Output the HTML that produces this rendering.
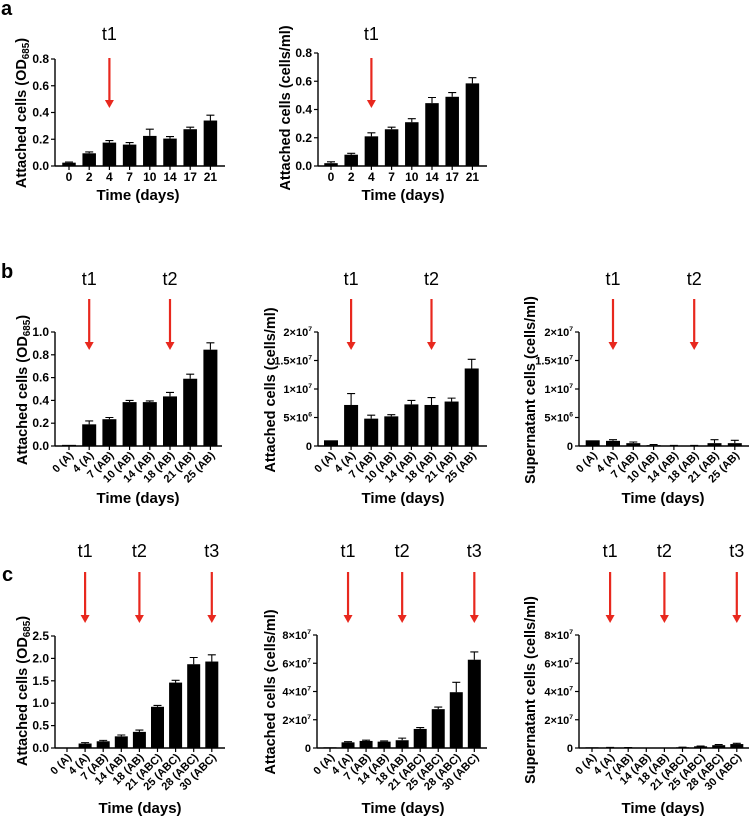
<!DOCTYPE html>
<html><head><meta charset="utf-8"><style>
body{margin:0;background:#fff}
svg{display:block;font-family:"Liberation Sans",Arial,sans-serif}
</style></head><body>
<svg id="fig" width="749" height="816" viewBox="0 0 749 816" xmlns="http://www.w3.org/2000/svg"></svg>
<script>
// ---- data ----
const catsA = ["0","2","4","7","10","14","17","21"];
const catsB = ["0 (A)","4 (A)","7 (AB)","10 (AB)","14 (AB)","18 (AB)","21 (AB)","25 (AB)"];
const catsC = ["0 (A)","4 (A)","7 (AB)","14 (AB)","18 (AB)","21 (ABC)","25 (ABC)","28 (ABC)","30 (ABC)"];
const a1Vals = [0.025,0.095,0.175,0.16,0.225,0.205,0.275,0.34];
const a1Errs = [0.005,0.01,0.015,0.015,0.05,0.015,0.015,0.04];
const a2Vals = [0.02,0.08,0.21,0.26,0.31,0.445,0.49,0.585];
const a2Errs = [0.01,0.01,0.025,0.015,0.025,0.04,0.03,0.04];
const b1Vals = [0.01,0.19,0.235,0.385,0.385,0.435,0.59,0.845];
const b1Errs = [0,0.03,0.015,0.015,0.01,0.035,0.04,0.06];
const b2Vals = [1e6,7.2e6,4.8e6,5.2e6,7.3e6,7.2e6,7.8e6,13.6e6];
const b2Errs = [0,2e6,0.6e6,0.3e6,0.7e6,1.3e6,0.6e6,1.6e6];
const b3Vals = [1e6,0.9e6,0.5e6,0.15e6,0.05e6,0.05e6,0.5e6,0.5e6];
const b3Errs = [0,0.2e6,0.2e6,0.1e6,0.05e6,0.05e6,0.6e6,0.5e6];
const c1Vals = [0.01,0.1,0.15,0.26,0.36,0.92,1.46,1.87,1.93];
const c1Errs = [0,0.02,0.02,0.03,0.04,0.03,0.05,0.15,0.15];
const c2Vals = [0.05e7,0.4e7,0.5e7,0.45e7,0.55e7,1.35e7,2.75e7,3.95e7,6.25e7];
const c2Errs = [0,0.05e7,0.05e7,0.05e7,0.15e7,0.1e7,0.15e7,0.7e7,0.55e7];
const c3Vals = [0.05e7,0.03e7,0.02e7,0.01e7,0.01e7,0.05e7,0.12e7,0.2e7,0.28e7];
const c3Errs = [0,0.01e7,0.01e7,0,0,0.01e7,0.02e7,0.04e7,0.05e7];
const ticksA1 = [0,0.2,0.4,0.6,0.8];
const tickLabA1 = ["0.0","0.2","0.4","0.6","0.8"];
const ticksB1 = [0,0.2,0.4,0.6,0.8,1.0];
const tickLabB1 = ["0.0","0.2","0.4","0.6","0.8","1.0"];
const ticksB2 = [0,5e6,1e7,1.5e7,2e7];
const tickLabB2 = ["0","5×10^6","1×10^7","1.5×10^7","2×10^7"];
const ticksC1 = [0,0.5,1.0,1.5,2.0,2.5];
const tickLabC1 = ["0.0","0.5","1.0","1.5","2.0","2.5"];
const ticksC2 = [0,2e7,4e7,6e7,8e7];
const tickLabC2 = ["0","2×10^7","4×10^7","6×10^7","8×10^7"];

const NS="http://www.w3.org/2000/svg";
const svg=document.getElementById('fig');
function mk(tag,attrs,parent){const e=document.createElementNS(NS,tag);for(const k in attrs)e.setAttribute(k,attrs[k]);(parent||svg).appendChild(e);return e;}

function panel(p){
  const g=mk('g',{});
  
  
  const ymax=p.ticks[p.ticks.length-1];
  const y=v=>p.y0-(v/ymax)*(p.y0-p.yTop);
  const x=i=>p.first+i*p.step;
  const ya=mk('line',{x1:p.ax,y1:p.yTop,x2:p.ax,y2:p.y0,stroke:'#000','stroke-width':1.4},g);
  
  
  const xa=mk('line',{x1:p.ax,y1:p.y0,x2:p.axEnd,y2:p.y0,stroke:'#000','stroke-width':1.4},g);
  
  
  p.ticks.forEach((t,i)=>{
    mk('line',{x1:p.ax-4,y1:y(t),x2:p.ax,y2:y(t),stroke:'#000','stroke-width':1.2},g);
    const tl=mk('text',{x:p.ax-6,y:y(t)+4,'text-anchor':'end','font-size':p.tickFs,'font-weight':'bold'},g);
    const parts=p.tickLabels[i].split('^');
    tl.appendChild(document.createTextNode(parts[0]));
    if(parts[1]){const s=mk('tspan',{'font-size':p.tickFs*0.62,dy:-5},tl);s.textContent=parts[1];}
    
    
  });
  p.cats.forEach((c,i)=>{
    const cx=x(i);
    mk('line',{x1:cx,y1:p.y0,x2:cx,y2:p.y0+4,stroke:'#000','stroke-width':1.2},g);
    const v=p.vals[i],e=p.errs[i];
    const b=mk('rect',{x:cx-p.bw/2,y:y(v),width:p.bw,height:p.y0-y(v),fill:'#000'},g);
    
    
    if(e>0){
      const eb=mk('path',{d:`M${cx},${y(v)} V${y(v+e)} M${cx-4},${y(v+e)} H${cx+4}`,stroke:'#000','stroke-width':1.1,fill:'none'},g);
      
      
    }
    let lab;
    if(p.rot){
      lab=mk('text',{x:0,y:0,'text-anchor':'end','font-size':11,'font-weight':'bold',transform:`translate(${cx+5},${p.y0+10}) rotate(-45)`},g);
    } else {
      lab=mk('text',{x:cx,y:p.y0+15,'text-anchor':'middle','font-size':12,'font-weight':'bold'},g);
    }
    lab.textContent=c;
    
    
  });
  const xt=mk('text',{x:p.xtX,y:p.xtY,'text-anchor':'middle','font-size':p.xtFs,'font-weight':'bold'},g);
  xt.textContent='Time (days)';
  
  
  const yt=mk('text',{x:p.ytX,y:p.ytY,'text-anchor':'middle','font-size':p.ytFs,'font-weight':'bold',transform:`rotate(-90 ${p.ytX} ${p.ytY})`},g);
  
  
  if(p.od){
    yt.appendChild(document.createTextNode('Attached cells (OD'));
    const s=mk('tspan',{'font-size':p.ytFs*0.68,dy:3},yt);s.textContent='685';
    const s2=mk('tspan',{dy:-3},yt);s2.textContent=')';
  } else yt.textContent=p.ytitle;
  p.arrows.forEach((ai,k)=>{
    const axx=x(ai);
    const t=mk('text',{x:axx,y:p.tY,'text-anchor':'middle','font-size':18},g);
    t.textContent='t'+(k+1);
    
    
    const ar=mk('g',{},g);
    
    
    mk('line',{x1:axx,y1:p.arT,x2:axx,y2:p.arB-7,stroke:'#e8281e','stroke-width':2.2},ar);
    mk('polygon',{points:`${axx-4.5},${p.arB-8} ${axx+4.5},${p.arB-8} ${axx},${p.arB}`,fill:'#e8281e'},ar);
  });
}

function letter(t,x,y){const l=mk('text',{x:x,y:y,'font-size':20,'font-weight':'bold'});l.textContent=t;
  
  }
letter('a',1,15);letter('b',1,278);letter('c',2,581);

panel({name:'panel-a1',cats:catsA,vals:a1Vals,errs:a1Errs,ticks:ticksA1,tickLabels:tickLabA1,ax:55,axEnd:225,y0:166,yTop:59,first:69,step:20.2,bw:13.5,rot:false,tickFs:12,xtX:138,xtY:200,xtFs:15,ytX:26,ytY:113,ytFs:14.5,od:true,arrows:[2],tY:40,arT:58,arB:108});
panel({name:'panel-a2',cats:catsA,vals:a2Vals,errs:a2Errs,ticks:ticksA1,tickLabels:tickLabA1,ax:318,axEnd:487,y0:166,yTop:53,first:331,step:20.2,bw:13.5,rot:false,tickFs:12,xtX:403,xtY:200,xtFs:15,ytX:290,ytY:108,ytFs:14.5,ytitle:'Attached cells (cells/ml)',arrows:[2],tY:40,arT:58,arB:108});
panel({name:'panel-b1',cats:catsB,vals:b1Vals,errs:b1Errs,ticks:ticksB1,tickLabels:tickLabB1,ax:55,axEnd:222,y0:446,yTop:332,first:69,step:20.2,bw:14,rot:true,tickFs:12,xtX:138,xtY:503,xtFs:15,ytX:27,ytY:390,ytFs:14.5,od:true,arrows:[1,5],tY:285,arT:299,arB:350});
panel({name:'panel-b2',cats:catsB,vals:b2Vals,errs:b2Errs,ticks:ticksB2,tickLabels:tickLabB2,ax:318,axEnd:487,y0:446,yTop:332,first:331,step:20.1,bw:14,rot:true,tickFs:11,xtX:403,xtY:503,xtFs:15,ytX:275,ytY:390,ytFs:14.5,ytitle:'Attached cells (cells/ml)',arrows:[1,5],tY:285,arT:299,arB:350});
panel({name:'panel-b3',cats:catsB,vals:b3Vals,errs:b3Errs,ticks:ticksB2,tickLabels:tickLabB2,ax:579,axEnd:749,y0:446,yTop:332,first:592.7,step:20.3,bw:14,rot:true,tickFs:11,xtX:663,xtY:503,xtFs:15,ytX:535,ytY:390,ytFs:14.5,ytitle:'Supernatant cells (cells/ml)',arrows:[1,5],tY:285,arT:299,arB:350});
panel({name:'panel-c1',cats:catsC,vals:c1Vals,errs:c1Errs,ticks:ticksC1,tickLabels:tickLabC1,ax:55,axEnd:225,y0:748,yTop:636,first:67,step:18.1,bw:13,rot:true,tickFs:12,xtX:140,xtY:813,xtFs:15,ytX:27,ytY:691,ytFs:14.5,od:true,arrows:[1,4,8],tY:557,arT:572,arB:623});
panel({name:'panel-c2',cats:catsC,vals:c2Vals,errs:c2Errs,ticks:ticksC2,tickLabels:tickLabC2,ax:317,axEnd:487,y0:748,yTop:635,first:330,step:18.04,bw:13,rot:true,tickFs:11,xtX:403,xtY:813,xtFs:15,ytX:275,ytY:692,ytFs:14.5,ytitle:'Attached cells (cells/ml)',arrows:[1,4,8],tY:557,arT:572,arB:623});
panel({name:'panel-c3',cats:catsC,vals:c3Vals,errs:c3Errs,ticks:ticksC2,tickLabels:tickLabC2,ax:579,axEnd:749,y0:748,yTop:635,first:592,step:18.1,bw:13,rot:true,tickFs:11,xtX:663,xtY:813,xtFs:15,ytX:535,ytY:690,ytFs:14.5,ytitle:'Supernatant cells (cells/ml)',arrows:[1,4,8],tY:557,arT:572,arB:623});
</script>
</body></html>
